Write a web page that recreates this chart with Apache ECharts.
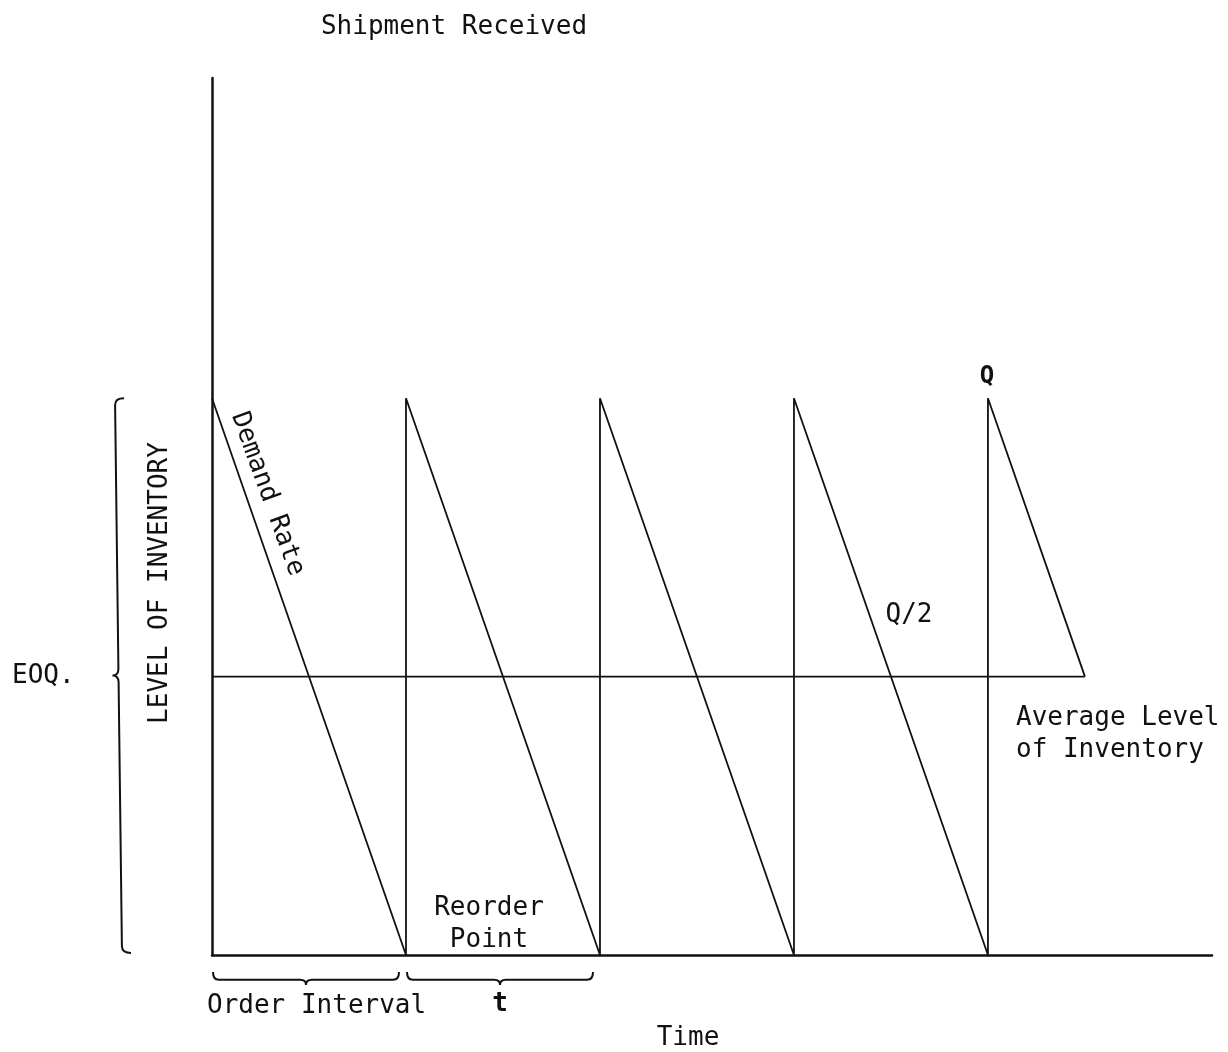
<!DOCTYPE html>
<html>
<head>
<meta charset="utf-8">
<title>EOQ inventory model</title>
<script src="https://cdn.jsdelivr.net/npm/echarts@6/dist/echarts.min.js"></script>
<style>
  html, body { margin: 0; padding: 0; background: #fff; }
  #chart { width: 1228px; height: 1052px; }
</style>
</head>
<body>
<div id="chart"></div>
<script>
// sawtooth: inventory level over time (one order cycle = 1 unit, Q = 1)
const invTime  = [0, 1, 1, 2, 2, 3, 3, 4, 4, 4.5];
const invLevel = [1, 0, 1, 0, 1, 0, 1, 0, 1, 0.5];

// average level line (Q/2)
const avgTime  = [0, 4.5];
const avgLevel = [0.5, 0.5];

// braces: [from, to] in data units
const eoqBrace = [[0, 1]];              // along the level axis
const cycleBraces = [[0, 1], [1, 2]];   // along the time axis

const xMax = 5.155;
const yMax = 1.575;

const FONT = '"DejaVu Sans Mono", "Liberation Mono", monospace';
const INK = '#111';

const chart = echarts.init(document.getElementById('chart'));

// brace path between two pixel points, tip pointing along n
function bracePath(p1, p2, n, d) {
    const L = Math.hypot(p2[0] - p1[0], p2[1] - p1[1]);
    const u = [(p2[0] - p1[0]) / L, (p2[1] - p1[1]) / L];
    const m = [(p1[0] + p2[0]) / 2, (p1[1] + p2[1]) / 2];
    const k = 0.6 * d, r = 0.45 * d;
    const pt = (b, a, b2) => [b[0] + n[0] * a + u[0] * b2, b[1] + n[1] * a + u[1] * b2];
    const c1 = pt(p1, k, 0), B = pt(p1, k, r);
    const C = pt(m, k, -r), cm = pt(m, k, 0), T = pt(m, d, 0), D = pt(m, k, r);
    const E = pt(p2, k, -r), c2 = pt(p2, k, 0);
    const f = p => p[0].toFixed(1) + ' ' + p[1].toFixed(1);
    return 'M' + f(p1) + ' Q' + f(c1) + ' ' + f(B) + ' L' + f(C) +
        ' Q' + f(cm) + ' ' + f(T) + ' Q' + f(cm) + ' ' + f(D) +
        ' L' + f(E) + ' Q' + f(c2) + ' ' + f(p2);
}

function toPairs(xs, ys) {
    return xs.map((x, i) => [x, ys[i]]);
}

const option = {
    backgroundColor: '#fff',
    animation: false,
    grid: { left: 212, right: 16, top: 78, bottom: 97 },
    xAxis: {
        type: 'value',
        min: 0,
        max: xMax,
        axisLine: { show: true, lineStyle: { color: INK, width: 2.5 } },
        axisTick: { show: false },
        axisLabel: { show: false },
        splitLine: { show: false }
    },
    yAxis: {
        type: 'value',
        min: 0,
        max: yMax,
        axisLine: { show: true, lineStyle: { color: INK, width: 2.5 } },
        axisTick: { show: false },
        axisLabel: { show: false },
        splitLine: { show: false }
    },
    series: [
        {
            name: 'Inventory',
            type: 'line',
            data: toPairs(invTime, invLevel),
            symbol: 'none',
            lineStyle: { color: INK, width: 1.8 }
        },
        {
            name: 'Average',
            type: 'line',
            data: toPairs(avgTime, avgLevel),
            symbol: 'none',
            lineStyle: { color: INK, width: 1.6 }
        },
        {
            name: 'EOQ brace',
            type: 'custom',
            clip: false,
            data: eoqBrace,
            encode: { x: -1, y: [0, 1] },
            renderItem: function (params, api) {
                const top = api.coord([0, api.value(1)]);
                const bot = api.coord([0, api.value(0)]);
                const x = top[0] - 88;
                return {
                    type: 'path',
                    shape: { pathData: bracePath([x, top[1]], [x + 7, bot[1] - 2], [-1, 0], 15) },
                    style: { fill: 'none', stroke: INK, lineWidth: 2 }
                };
            }
        },
        {
            name: 'Cycle braces',
            type: 'custom',
            clip: false,
            data: cycleBraces,
            encode: { x: [0, 1], y: -1 },
            renderItem: function (params, api) {
                const a = api.coord([api.value(0), 0]);
                const b = api.coord([api.value(1), 0]);
                const y = a[1] + 17;
                return {
                    type: 'path',
                    shape: { pathData: bracePath([a[0] + 1, y], [b[0] - 7, y], [0, 1], 13) },
                    style: { fill: 'none', stroke: INK, lineWidth: 2 }
                };
            }
        }
    ],
    graphic: [
        { type: 'text', x: 454, y: 27, style: { text: 'Shipment Received', font: '26px ' + FONT, fill: INK, textAlign: 'center', textVerticalAlign: 'middle' } },
        { type: 'text', x: 160, y: 583, rotation: Math.PI / 2, style: { text: 'LEVEL OF INVENTORY', font: '26px ' + FONT, fill: INK, textAlign: 'center', textVerticalAlign: 'middle' } },
        { type: 'text', x: 12, y: 676, style: { text: 'EOQ.', font: '26px ' + FONT, fill: INK, textAlign: 'left', textVerticalAlign: 'middle' } },
        { type: 'text', x: 238, y: 413, rotation: -70 * Math.PI / 180, style: { text: 'Demand Rate', font: '26px ' + FONT, fill: INK, textAlign: 'left', textVerticalAlign: 'middle' } },
        { type: 'text', x: 909, y: 615, style: { text: 'Q/2', font: '26px ' + FONT, fill: INK, textAlign: 'center', textVerticalAlign: 'middle' } },
        { type: 'text', x: 987, y: 377, style: { text: 'Q', font: 'bold 24px ' + FONT, fill: INK, textAlign: 'center', textVerticalAlign: 'middle' } },
        { type: 'text', x: 1016, y: 718, style: { text: 'Average Level', font: '26px ' + FONT, fill: INK, textAlign: 'left', textVerticalAlign: 'middle' } },
        { type: 'text', x: 1016, y: 750, style: { text: 'of Inventory', font: '26px ' + FONT, fill: INK, textAlign: 'left', textVerticalAlign: 'middle' } },
        { type: 'text', x: 489, y: 908, style: { text: 'Reorder', font: '26px ' + FONT, fill: INK, textAlign: 'center', textVerticalAlign: 'middle' } },
        { type: 'text', x: 489, y: 940, style: { text: 'Point', font: '26px ' + FONT, fill: INK, textAlign: 'center', textVerticalAlign: 'middle' } },
        { type: 'text', x: 207, y: 1006, style: { text: 'Order Interval', font: '26px ' + FONT, fill: INK, textAlign: 'left', textVerticalAlign: 'middle' } },
        { type: 'text', x: 500, y: 1004, style: { text: 't', font: 'bold 26px ' + FONT, fill: INK, textAlign: 'center', textVerticalAlign: 'middle' } },
        { type: 'text', x: 688, y: 1038, style: { text: 'Time', font: '26px ' + FONT, fill: INK, textAlign: 'center', textVerticalAlign: 'middle' } }
    ]
};

chart.setOption(option);
</script>
</body>
</html>
